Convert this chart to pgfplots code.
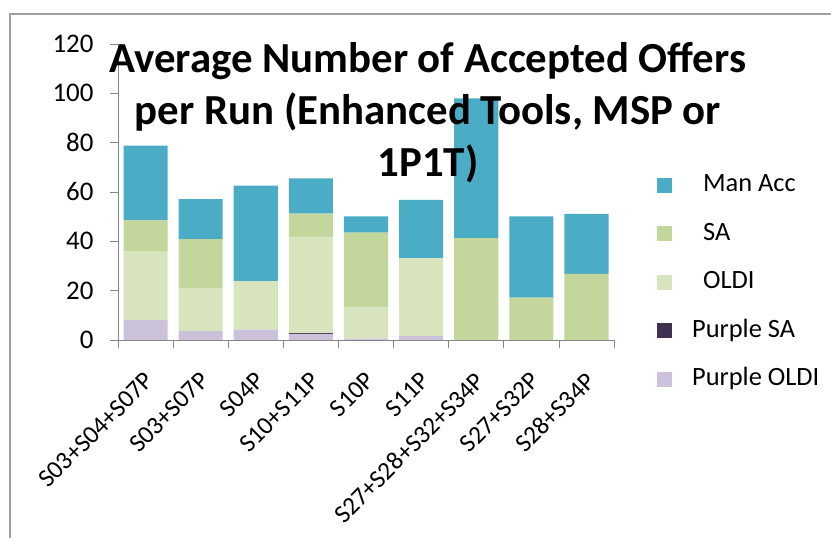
\documentclass[border=0pt]{standalone}
\usepackage{pgfplots}
\pgfplotsset{compat=1.18}
\usepackage{fontspec}
\setmainfont{Carlito}
\definecolor{manacc}{HTML}{4BACC6}
\definecolor{sa}{HTML}{C3D69B}
\definecolor{oldi}{HTML}{D7E4BD}
\definecolor{psa}{HTML}{403152}
\definecolor{poldi}{HTML}{CCC1DA}
\definecolor{axgray}{HTML}{868686}
\definecolor{bordergray}{HTML}{A0A0A0}
\begin{document}
\begin{tikzpicture}[x=1bp,y=1bp]
\useasboundingbox (0,0) rectangle (831,538);
\draw[bordergray, line width=1.5bp] (10,0) -- (10,524) -- (831,524);
\begin{axis}[
  at={(118bp,198bp)}, anchor=south west,
  scale only axis, width=496bp, height=296bp,
  ybar stacked, bar width=0.8,
  xmin=-0.5, xmax=8.5, ymin=0, ymax=120,
  ytick={0,20,...,120},
  xtick={0,...,8},
  xticklabels={S03+S04+S07P,S03+S07P,S04P,S10+S11P,S10P,S11P,S27+S28+S32+S34P,S27+S32P,S28+S34P},
  minor xtick={-0.5,0.5,...,8.5},
  axis x line*=bottom, axis y line*=left,
  axis line style={axgray, line width=0.8bp},
  tick align=outside,
  major tick length=8bp, minor tick length=8bp,
  tick style={axgray, line width=0.8bp},
  every major x tick/.style={draw=none},
  /pgf/number format/assume math mode=true,
  yticklabel style={font=\fontsize{27}{31}\selectfont, text=black, xshift=-13bp},
  xticklabel style={font=\fontsize{25.5}{30}\selectfont, rotate=45, anchor=east, text=black, xshift=-14bp, yshift=-23bp},
  reverse legend,
  legend style={at={(1.0805,0.569)}, anchor=north west, draw=none, fill=none,
    font=\fontsize{26.5}{30}\selectfont, row sep=25.5bp, column sep=0bp,
    nodes={inner sep=0pt, text height=18bp, text depth=5bp}},
  legend cell align=left,
  legend image code/.code={\fill[#1] (0bp,-7.5bp) rectangle (15bp,7.5bp);},
]
\addplot[fill=poldi, draw=none] coordinates {(0,8.1) (1,3.6) (2,4.2) (3,2.5) (4,0.6) (5,1.6) (6,0) (7,0) (8,0)};
\addlegendentry{\hspace{20bp}Purple OLDI}
\addplot[fill=psa, draw=none] coordinates {(0,0) (1,0) (2,0) (3,0.4) (4,0) (5,0) (6,0) (7,0) (8,0)};
\addlegendentry{\hspace{20bp}Purple SA}
\addplot[fill=oldi, draw=none] coordinates {(0,27.7) (1,17.2) (2,19.7) (3,38.7) (4,12.6) (5,31.6) (6,0) (7,0) (8,0)};
\addlegendentry{\hspace{31bp}OLDI}
\addplot[fill=sa, draw=none] coordinates {(0,12.7) (1,20.1) (2,0) (3,9.6) (4,30.3) (5,0) (6,41.3) (7,17.2) (8,26.8)};
\addlegendentry{\hspace{31bp}SA}
\addplot[fill=manacc, draw=none] coordinates {(0,30.3) (1,16.2) (2,38.7) (3,14.3) (4,6.6) (5,23.6) (6,56.7) (7,32.9) (8,24.3)};
\addlegendentry{\hspace{31bp}Man Acc}
\end{axis}
\begin{scope}[font=\fontsize{43}{52}\selectfont\bfseries]
\node[anchor=base, inner sep=0pt] at (428,465) {Average Number of Accepted Offers};
\node[anchor=base, inner sep=0pt] at (428,413) {per Run (Enhanced Tools, MSP or};
\node[anchor=base, inner sep=0pt] at (428,361) {1P1T)};
\end{scope}
\end{tikzpicture}
\end{document}
